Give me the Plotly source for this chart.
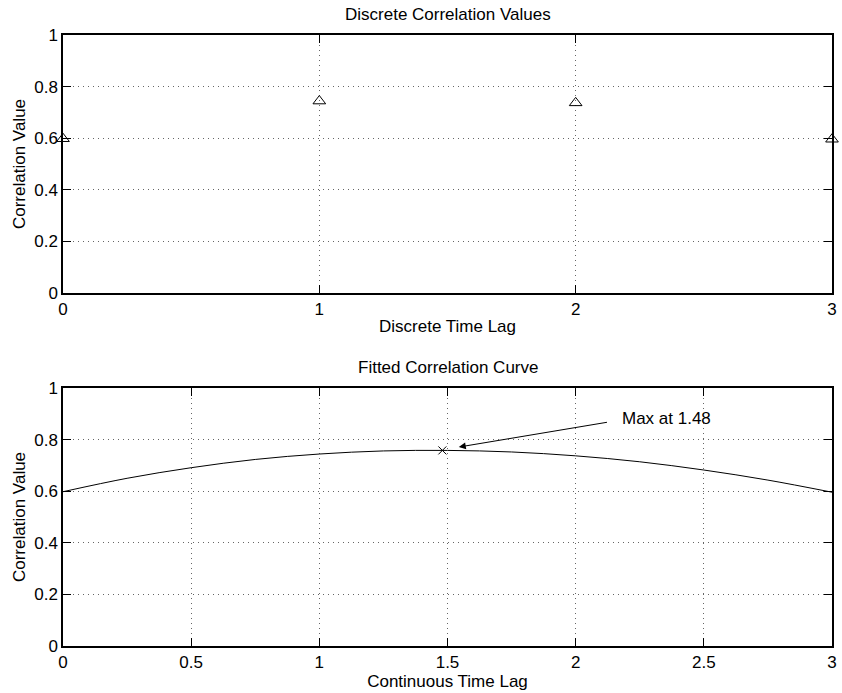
import plotly.graph_objects as go

# Discrete correlation values at integer lags
lags = [0, 1, 2, 3]
corr = [0.598, 0.744, 0.737, 0.596]

# Fitted correlation curve sampled over the continuous lag range
fit_lag = [0, 0.25, 0.5, 0.75, 1.0, 1.25, 1.5, 1.75, 2.0, 2.25, 2.5, 2.75, 3.0]
fit_corr = [0.598, 0.650, 0.691, 0.723, 0.744, 0.756, 0.758, 0.752, 0.737, 0.714, 0.682, 0.643, 0.596]

# Location of the curve maximum
peak_lag = 1.48
peak_corr = 0.758
peak_label = "Max at 1.48"

y_ticks = [0, 0.2, 0.4, 0.6, 0.8, 1]
y_tick_text = ["0", "0.2", "0.4", "0.6", "0.8", "1"]
x_ticks_top = [0, 1, 2, 3]
x_ticks_bottom = [0, 0.5, 1, 1.5, 2, 2.5, 3]
x_tick_text_bottom = ["0", "0.5", "1", "1.5", "2", "2.5", "3"]

FONT = "Liberation Sans, Arial, Helvetica, sans-serif"
TICK_SIZE = 17
LABEL_SIZE = 17
TITLE_SIZE = 17

fig = go.Figure()

fig.add_trace(go.Scatter(
    x=lags, y=corr, mode="markers", xaxis="x", yaxis="y",
    marker=dict(symbol="triangle-up-open", size=11, color="black",
                line=dict(width=1, color="black")),
    cliponaxis=False, showlegend=False, hoverinfo="x+y",
))

fig.add_trace(go.Scatter(
    x=fit_lag, y=fit_corr, mode="lines", xaxis="x2", yaxis="y2",
    line=dict(color="black", width=1, shape="spline", smoothing=1.0),
    showlegend=False,
))

fig.add_trace(go.Scatter(
    x=[peak_lag], y=[peak_corr], mode="markers", xaxis="x2", yaxis="y2",
    marker=dict(symbol="x-thin-open", size=8, color="black",
                line=dict(width=1, color="black")),
    showlegend=False,
))

axis_style = dict(
    showline=True, linecolor="black", linewidth=1.5, mirror="allticks",
    ticks="inside", ticklen=8, tickcolor="black", tickwidth=1,
    showgrid=True, gridcolor="#666666", gridwidth=1, griddash="1px,4px",
    zeroline=False,
    tickfont=dict(family=FONT, size=TICK_SIZE, color="black"),
    title_font=dict(family=FONT, size=LABEL_SIZE, color="black"),
)

fig.update_layout(
    width=842, height=693,
    margin=dict(l=63, r=5, t=35, b=47),
    paper_bgcolor="white", plot_bgcolor="white",
    font=dict(family=FONT, color="black"),
    xaxis=dict(axis_style, domain=[0, 1], range=[0, 3], anchor="y",
               tickvals=x_ticks_top, ticktext=[str(v) for v in x_ticks_top],
               title=dict(text="Discrete Time Lag", standoff=2)),
    yaxis=dict(axis_style, domain=[0.5777, 1], range=[0, 1], anchor="x",
               tickvals=y_ticks, ticktext=y_tick_text,
               title=dict(text="Correlation Value", standoff=4)),
    xaxis2=dict(axis_style, domain=[0, 1], range=[0, 3], anchor="y2",
                tickvals=x_ticks_bottom, ticktext=x_tick_text_bottom,
                title=dict(text="Continuous Time Lag", standoff=2)),
    yaxis2=dict(axis_style, domain=[0, 0.4223], range=[0, 1], anchor="x2",
                tickvals=y_ticks, ticktext=y_tick_text,
                title=dict(text="Correlation Value", standoff=4)),
)

# Panel titles
fig.add_annotation(text="Discrete Correlation Values", xref="x domain", yref="y domain",
                   x=0.5, y=1, yshift=9, xanchor="center", yanchor="bottom",
                   showarrow=False, font=dict(family=FONT, size=TITLE_SIZE, color="black"))
fig.add_annotation(text="Fitted Correlation Curve", xref="x2 domain", yref="y2 domain",
                   x=0.5, y=1, yshift=9, xanchor="center", yanchor="bottom",
                   showarrow=False, font=dict(family=FONT, size=TITLE_SIZE, color="black"))

# Arrow pointing at the maximum, with its label at the tail
fig.add_annotation(xref="x2", yref="y2", axref="x2", ayref="y2",
                   x=1.544, y=0.771, ax=2.128, ay=0.868, text="",
                   showarrow=True, arrowhead=2, arrowsize=1.4, arrowwidth=1,
                   arrowcolor="black", standoff=0, startstandoff=0)
fig.add_annotation(xref="x2", yref="y2", x=2.171, y=0.882, text=peak_label,
                   xanchor="left", yanchor="middle", showarrow=False,
                   font=dict(family=FONT, size=LABEL_SIZE, color="black"))

fig.write_html("out.html")
